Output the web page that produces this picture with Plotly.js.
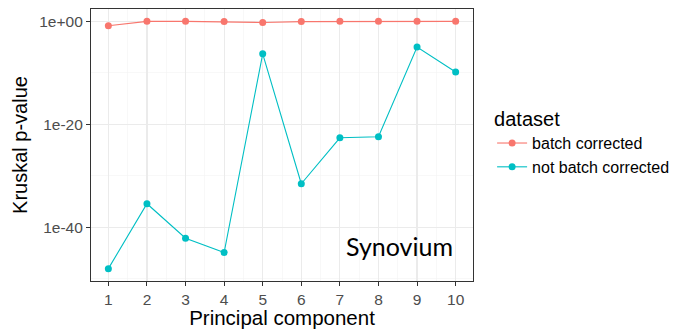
<!DOCTYPE html>
<html><head><meta charset="utf-8">
<script src="https://cdn.plot.ly/plotly-3.0.1.min.js"></script>
<style>html,body{margin:0;padding:0;background:#fff;}</style>
</head><body>
<div id="chart" style="width:683px;height:329px;"></div>
<script>
const components = [1,2,3,4,5,6,7,8,9,10];
const batchCorrected = [1.4e-1, 1, 1, 0.9, 0.6, 0.9, 1, 1, 1, 1];
const notBatchCorrected = [1e-48, 4e-36, 8e-43, 1.3e-45, 5e-7, 3e-32, 2.5e-23, 4e-23, 1e-5, 1.5e-10];
const yTickVals = [1, 1e-20, 1e-40];
const yTickText = ["1e+00", "1e-20", "1e-40"];
const seriesNames = ["batch corrected", "not batch corrected"];

const traces = [
  {x: components, y: batchCorrected, name: seriesNames[0], type: 'scatter', mode: 'lines+markers',
   line: {color: '#F8766D', width: 1.1}, marker: {color: '#F8766D', size: 7}},
  {x: components, y: notBatchCorrected, name: seriesNames[1], type: 'scatter', mode: 'lines+markers',
   line: {color: '#00BFC4', width: 1.1}, marker: {color: '#00BFC4', size: 7}}
];

const layout = {
  width: 683, height: 329,
  margin: {l: 91, r: 207, t: 9, b: 48},
  paper_bgcolor: '#fff', plot_bgcolor: '#fff',
  font: {family: 'Liberation Sans, Arial, sans-serif'},
  xaxis: {
    range: [0.55, 10.45], tickvals: components, ticktext: components.map(String),
    ticks: 'outside', ticklen: 4, tickcolor: '#333', tickwidth: 1,
    tickfont: {size: 15.5, color: '#4D4D4D'},
    showgrid: true, gridcolor: '#EBEBEB', gridwidth: 1.1,
    minor: {tickvals: [1.5,2.5,3.5,4.5,5.5,6.5,7.5,8.5,9.5], showgrid: true, gridcolor: '#F3F3F3', gridwidth: 0.6, ticks: ''},
    showline: true, mirror: true, linecolor: '#333', linewidth: 1.1, zeroline: false,
    title: {text: 'Principal component', font: {size: 20.5, color: '#000'}, standoff: 2}
  },
  yaxis: {
    type: 'log', range: [-50.4, 2.4], autorange: false,
    tickmode: 'array', tickvals: yTickVals, ticktext: yTickText,
    ticks: 'outside', ticklen: 4, tickcolor: '#333', tickwidth: 1,
    tickfont: {size: 15.5, color: '#4D4D4D'},
    showgrid: true, gridcolor: '#EBEBEB', gridwidth: 1.1,
    minor: {tickvals: [1e-10, 1e-30, 1e-50], showgrid: true, gridcolor: '#F3F3F3', gridwidth: 0.6, ticks: ''},
    showline: true, mirror: true, linecolor: '#333', linewidth: 1.1, zeroline: false,
    title: {text: 'Kruskal p-value', font: {size: 20, color: '#000'}, standoff: 6}
  },
  legend: {
    x: 1.05, y: 0.665, xanchor: 'left', yanchor: 'top',
    title: {text: 'dataset', font: {size: 20, color: '#000'}},
    font: {size: 16, color: '#000'}, tracegroupgap: 0, itemwidth: 30
  },
  annotations: [{
    xref: 'x', yref: 'paper', x: 7.1, y: 0.13, text: 'Synovium', showarrow: false,
    xanchor: 'left', yanchor: 'middle', font: {family: 'Lato, Open Sans, sans-serif', size: 25, color: '#000'}
  }]
};
Plotly.newPlot('chart', traces, layout, {displayModeBar: false, staticPlot: true});
</script>
</body></html>
